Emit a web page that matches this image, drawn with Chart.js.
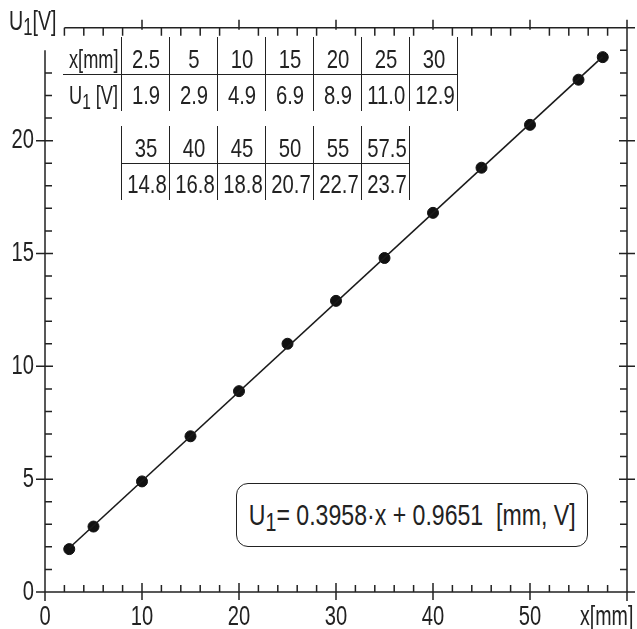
<!DOCTYPE html>
<html lang="en">
<head>
<meta charset="UTF-8">
<title>U1 vs x</title>
<script src="https://cdn.jsdelivr.net/npm/chart.js"></script>
<style>
  body { margin: 0; background: #fff; }
  .wrap {
    position: relative; width: 637px; height: 629px;
    font-family: 'Liberation Sans', Arial, sans-serif;
    color: #222;
  }
  canvas { position: absolute; left: 0; top: 0; }
  .lbl {
    position: absolute; font-size: 28px; line-height: 1; white-space: nowrap;
    transform: scaleX(0.7); transform-origin: left top;
  }
  sub { font-size: 85%; vertical-align: -0.22em; line-height: 0; }
  .cell {
    position: absolute; width: 48px; font-size: 26px; line-height: 1;
    text-align: center; white-space: nowrap; transform: scaleX(0.78);
  }
  .cell.head { transform: scaleX(0.7); }
  .vl { position: absolute; width: 0; border-left: 1.5px solid #222; }
  .hl { position: absolute; height: 0; border-top: 1.5px solid #222; }
  .eq {
    position: absolute; left: 236px; top: 483px; width: 350px; height: 62px;
    border: 1.5px solid #222; border-radius: 12px; background: #fff;
    display: flex; align-items: center; justify-content: center;
    font-size: 30px; white-space: nowrap;
  }
  .eq span { display: inline-block; transform: scaleX(0.77); }
</style>
</head>
<body>
<div class="wrap" id="wrap">
  <canvas id="chart" width="637" height="629"></canvas>
  <div class="lbl" style="left:9px; top:7px;">U<sub>1</sub>[V]</div>
  <div class="lbl" style="left:580px; top:602px;">x[mm]</div>
  <div class="eq"><span>U<sub>1</sub>= 0.3958·x + 0.9651&nbsp;&nbsp;[mm, V]</span></div>
</div>

<script>
// measured points
const xMm = [2.5, 5, 10, 15, 20, 25, 30, 35, 40, 45, 50, 55, 57.5];
const u1V = [1.9, 2.9, 4.9, 6.9, 8.9, 11.0, 12.9, 14.8, 16.8, 18.8, 20.7, 22.7, 23.7];

// fitted line end points
const fitX = [2.5, 57.5];
const fitY = [1.95, 23.72];

const xTicks = [0, 10, 20, 30, 40, 50];
const yTicks = [0, 5, 10, 15, 20];

// data tables drawn on top of the chart
const wrap = document.getElementById('wrap');
function addEl(cls, style, html) {
  const d = document.createElement('div');
  d.className = cls;
  d.style.cssText = style;
  if (html) d.innerHTML = html;
  wrap.appendChild(d);
}
function drawTable(from, to, left, top, withHead) {
  const colW = 48;
  const n = to - from;
  const start = withHead ? left - 58 : left;
  addEl('hl', `left:${start}px; top:${top + 37}px; width:${left + n * colW - start}px;`);
  for (let i = 0; i <= n; i++) {
    addEl('vl', `left:${left + i * colW}px; top:${top}px; height:74px;`);
  }
  if (withHead) {
    addEl('cell head', `left:${left - 61}px; width:60px; top:${top + 9}px;`, 'x[mm]');
    addEl('cell head', `left:${left - 61}px; width:60px; top:${top + 45}px;`, 'U<sub>1</sub> [V]');
  }
  for (let i = from; i < to; i++) {
    const l = left + (i - from) * colW + 1;
    addEl('cell', `left:${l}px; top:${top + 9}px;`, String(xMm[i]));
    addEl('cell', `left:${l}px; top:${top + 45}px;`, u1V[i].toFixed(1));
  }
}
drawTable(0, 7, 121, 37, true);
drawTable(7, 13, 121, 126, false);

// condensed tick labels: squeeze text drawn on the chart canvas
const SQUEEZE = 0.72;
const narrow = {
  id: 'narrow',
  beforeInit(chart) {
    const ctx = chart.ctx;
    const fill = ctx.fillText.bind(ctx);
    ctx.fillText = (t, x, y, w) => {
      ctx.save();
      ctx.translate(x, y);
      ctx.scale(SQUEEZE, 1);
      if (w === undefined) fill(t, 0, 0); else fill(t, 0, 0, w / SQUEEZE);
      ctx.restore();
    };
  }
};

// frame with inward ticks on all four sides
const frame = {
  id: 'frame',
  beforeDatasetsDraw(chart) {
    const { ctx, chartArea: a, scales: { x, y } } = chart;
    ctx.save();
    ctx.strokeStyle = '#222';
    ctx.lineWidth = 1.5;
    ctx.beginPath();
    ctx.moveTo(a.left - 9, a.bottom); ctx.lineTo(a.right, a.bottom);
    ctx.moveTo(a.left, a.bottom + 9); ctx.lineTo(a.left, y.getPixelForValue(24));
    ctx.moveTo(x.getPixelForValue(2), a.top); ctx.lineTo(a.right + 8, a.top);
    ctx.moveTo(a.right, a.top - 8); ctx.lineTo(a.right, a.bottom + 9);
    for (let v = 0; v <= 60; v += 2) {
      const px = x.getPixelForValue(v);
      const major = v % 10 === 0;
      ctx.moveTo(px, a.bottom - (major ? 9 : 7)); ctx.lineTo(px, a.bottom + (major ? 8 : 0));
      if (v >= 2) { ctx.moveTo(px, a.top + (major ? 2 : 8)); ctx.lineTo(px, a.top - (major ? 8 : 0)); }
    }
    for (let v = 0; v <= 25; v += 1) {
      const py = y.getPixelForValue(v);
      const major = v % 5 === 0;
      if (v <= 23) { ctx.moveTo(a.left - (major ? 9 : 0), py); ctx.lineTo(a.left + (major ? 8 : 7), py); }
      ctx.moveTo(a.right - (major ? 8 : 7), py); ctx.lineTo(a.right + (major ? 8 : 0), py);
    }
    ctx.stroke();
    ctx.restore();
  }
};

const tickFont = { family: "'Liberation Sans', Arial, sans-serif", size: 28 };

new Chart(document.getElementById('chart'), {
  type: 'scatter',
  data: {
    datasets: [
      {
        data: fitX.map((v, i) => ({ x: v, y: fitY[i] })),
        showLine: true,
        borderColor: '#1a1a1a',
        borderWidth: 1.6,
        pointRadius: 0
      },
      {
        data: xMm.map((v, i) => ({ x: v, y: u1V[i] })),
        backgroundColor: '#111',
        borderColor: '#111',
        pointRadius: 5.5,
        showLine: false
      }
    ]
  },
  options: {
    responsive: false,
    animation: false,
    layout: { padding: { top: 16, right: 10, left: 0, bottom: 0 } },
    plugins: { legend: { display: false }, tooltip: { enabled: false } },
    scales: {
      x: {
        type: 'linear', min: 0, max: 60,
        afterBuildTicks: s => { s.ticks = xTicks.map(v => ({ value: v })); },
        ticks: { font: tickFont, color: '#222', padding: 8, maxRotation: 0 },
        grid: { display: false, drawTicks: false },
        border: { display: false },
        afterFit: s => { s.height = 37; }
      },
      y: {
        min: 0, max: 25,
        afterBuildTicks: s => { s.ticks = yTicks.map(v => ({ value: v })); },
        ticks: { font: tickFont, color: '#222', padding: 11 },
        grid: { display: false, drawTicks: false },
        border: { display: false },
        afterFit: s => { s.width = 45; }
      }
    }
  },
  plugins: [narrow, frame]
});
</script>
</body>
</html>
